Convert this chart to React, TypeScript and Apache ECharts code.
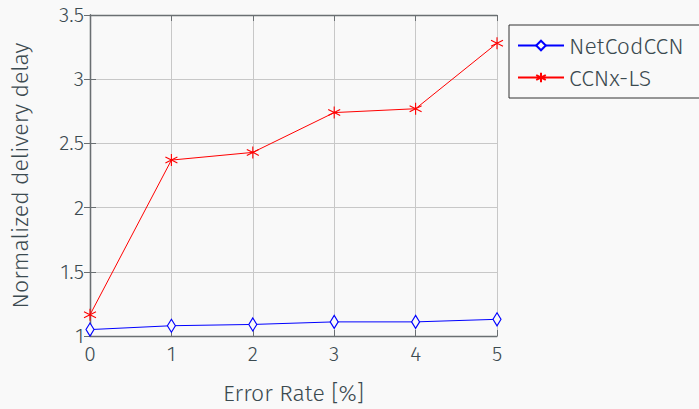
import React, { useEffect, useRef } from "react";
import * as echarts from "echarts";

const errorRates = [0, 1, 2, 3, 4, 5];
const netCodCCN = [1.05, 1.08, 1.09, 1.11, 1.11, 1.13];
const ccnxLS = [1.165, 2.37, 2.43, 2.74, 2.77, 3.28];

const FONT = "'Fira Sans', 'Open Sans', 'Noto Sans', sans-serif";
const TEXT = "#3b4a50";
const AXIS = "#6a6f72";
const GRID = "#c8c8c8";
const STAR = "path://M0,-10L0,10M-8.66,-5L8.66,5M-8.66,5L8.66,-5";

export default function App() {
  const ref = useRef<HTMLDivElement>(null);
  useEffect(() => {
    const chart = echarts.init(ref.current!, undefined, { renderer: "svg" });
    const axisCommon = {
      type: "value" as const,
      axisLine: { show: true, lineStyle: { color: AXIS, width: 1.3 } },
      axisTick: { show: true, inside: true, length: 6, lineStyle: { color: AXIS } },
    };
    chart.setOption({
      animation: false,
      backgroundColor: "#f9f9f9",
      textStyle: { fontFamily: FONT, fontWeight: 300 },
      grid: { left: 88, right: 202, top: 15, bottom: 68 },
      legend: {
        left: 509,
        top: 25,
        orient: "vertical",
        itemWidth: 46,
        itemHeight: 12,
        itemGap: 9,
        padding: [9, 40, 9, 8],
        borderColor: "#333",
        borderWidth: 1,
        textStyle: { fontSize: 23, color: TEXT, fontFamily: FONT, fontWeight: 300 },
        data: ["NetCodCCN", "CCNx-LS"],
      },
      xAxis: [
        {
          ...axisCommon,
          min: 0,
          max: 5,
          interval: 1,
          name: "Error Rate [%]",
          nameLocation: "middle",
          nameGap: 45,
          nameTextStyle: { fontSize: 23, color: TEXT, fontWeight: 300 },
          axisLabel: { fontSize: 21, color: TEXT, margin: 7, fontWeight: 300 },
          splitLine: { show: true, lineStyle: { color: GRID } },
        },
        {
          ...axisCommon,
          position: "top",
          min: 0,
          max: 5,
          interval: 1,
          axisLabel: { show: false },
          splitLine: { show: false },
        },
      ],
      yAxis: [
        {
          ...axisCommon,
          min: 1,
          max: 3.5,
          interval: 0.5,
          name: "Normalized delivery delay",
          nameLocation: "middle",
          nameGap: 59,
          nameTextStyle: { fontSize: 23, color: TEXT, fontWeight: 300 },
          axisLabel: { fontSize: 21, color: TEXT, margin: 6, fontWeight: 300 },
          splitLine: { show: true, lineStyle: { color: GRID } },
        },
        {
          ...axisCommon,
          position: "right",
          min: 1,
          max: 3.5,
          interval: 0.5,
          axisLabel: { show: false },
          splitLine: { show: false },
        },
      ],
      series: [
        {
          name: "NetCodCCN",
          type: "line",
          data: errorRates.map((x, i) => [x, netCodCCN[i]]),
          symbol: "diamond",
          symbolSize: [8, 13],
          showAllSymbol: true,
          lineStyle: { color: "#0000ff", width: 1 },
          itemStyle: { color: "#f9f9f9", borderColor: "#0000ff", borderWidth: 1.2 },
          z: 3,
        },
        {
          name: "CCNx-LS",
          type: "line",
          data: errorRates.map((x, i) => [x, ccnxLS[i]]),
          symbol: STAR,
          symbolSize: 12,
          lineStyle: { color: "#ff0000", width: 1 },
          itemStyle: { color: "#ff0000", borderColor: "#ff0000", borderWidth: 1.1 },
          z: 3,
        },
      ],
    });
    return () => chart.dispose();
  }, []);
  return <div ref={ref} style={{ width: 699, height: 409, position: "absolute", left: 0, top: 0 }} />;
}
